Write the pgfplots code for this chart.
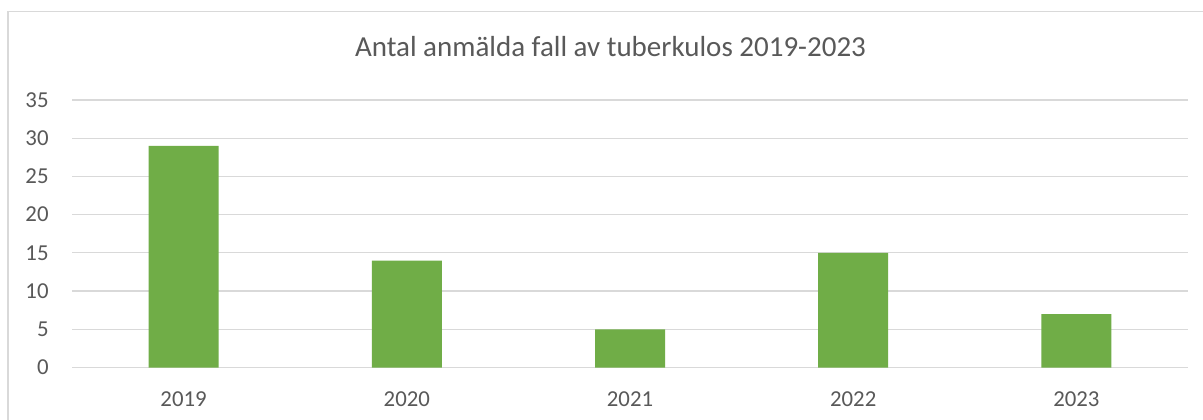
\documentclass[border=0pt]{standalone}
\usepackage{pgfplots}
\pgfplotsset{compat=1.18}
\usepackage{fontspec}
\setmainfont{Carlito}
\definecolor{bargreen}{HTML}{70AD47}
\definecolor{txtgray}{HTML}{595959}
\definecolor{gridgray}{HTML}{D9D9D9}
\begin{document}
\begin{tikzpicture}[x=1pt,y=1pt]
\useasboundingbox (0,0) rectangle (601.5,209.5);
\fill[white] (0,0) rectangle (601.5,209.5);
\draw[gridgray, line width=0.7pt] (4,-2) -- (4,203.75) -- (604,203.75);
\node[anchor=base, text=txtgray, font=\fontsize{14.5pt}{17pt}\selectfont, inner sep=0pt] at (305.25,181.15) {Antal anmälda fall av tuberkulos 2019-2023};
\begin{axis}[
  at={(36pt,25.75pt)}, anchor=south west,
  width=558pt, height=133.75pt, scale only axis,
  xmin=-0.5, xmax=4.5, ymin=0, ymax=35,
  xtick={0,1,2,3,4}, xticklabels={2019,2020,2021,2022,2023},
  ytick={0,5,...,35},
  axis line style={draw=none},
  major tick length=0pt,
  ymajorgrids, grid style={gridgray, line width=0.6pt},
  /pgf/number format/assume math mode=true,
  tick label style={text=txtgray, font=\fontsize{11.4pt}{13pt}\selectfont, inner sep=0pt},
  yticklabel style={anchor=east, xshift=-11.5pt},
  xticklabel style={anchor=north, yshift=-11.75pt},
  clip=false,
]
\addplot[ybar, bar width=35pt, fill=bargreen, draw=none] coordinates {(0,29) (1,14) (2,5) (3,15) (4,7)};
\end{axis}
\end{tikzpicture}
\end{document}
